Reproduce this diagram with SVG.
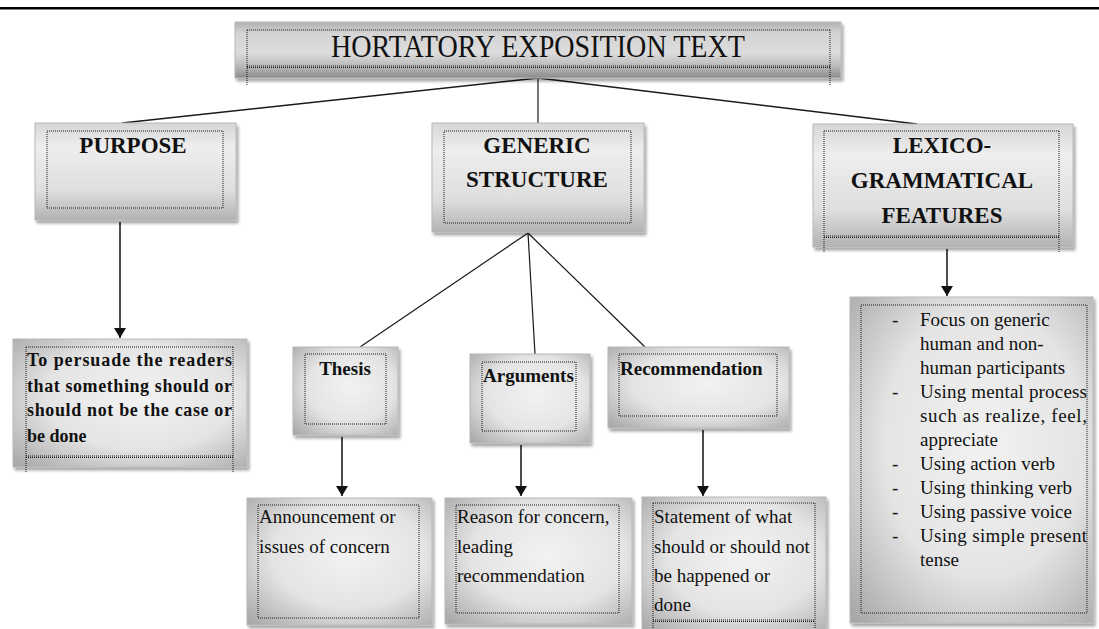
<svg xmlns="http://www.w3.org/2000/svg" width="1099" height="629" viewBox="0 0 1099 629">
<style>
.box{stroke:#b8b8b8;stroke-width:1;filter:url(#sh)}
.lin{fill:url(#lin)}
.rad{fill:url(#rad)}
.dot{fill:none;stroke:#1a1a1a;stroke-width:1;stroke-dasharray:1 1}
.hd{font-family:"Liberation Serif","Times New Roman",serif;font-weight:bold;fill:#111}
.tx{font-family:"Liberation Serif","Times New Roman",serif;fill:#111;font-size:19px}
.con{stroke:#1a1a1a;stroke-width:1.5;fill:none}
.arr{stroke:#111;stroke-width:1.5;fill:none;marker-end:url(#ah)}
</style>
<defs>
<linearGradient id="lin" x1="0" y1="0" x2="0" y2="1">
<stop offset="0" stop-color="#d6d6d6"/>
<stop offset="0.25" stop-color="#eeeeee"/>
<stop offset="0.7" stop-color="#dedede"/>
<stop offset="1" stop-color="#b2b2b2"/>
</linearGradient>
<radialGradient id="rad" cx="0.55" cy="0.45" r="0.75">
<stop offset="0" stop-color="#f2f2f2"/>
<stop offset="0.55" stop-color="#e4e4e4"/>
<stop offset="1" stop-color="#a8a8a8"/>
</radialGradient>
<linearGradient id="tg" x1="0" y1="0" x2="0" y2="1">
<stop offset="0" stop-color="#b0b0b0"/>
<stop offset="0.2" stop-color="#d4d4d4"/>
<stop offset="0.55" stop-color="#dcdcdc"/>
<stop offset="0.8" stop-color="#b8b8b8"/>
<stop offset="1" stop-color="#8a8a8a"/>
</linearGradient>
<filter id="sh" x="-10%" y="-10%" width="125%" height="130%">
<feGaussianBlur in="SourceAlpha" stdDeviation="1.5"/>
<feOffset dx="2" dy="3" result="o"/>
<feComponentTransfer><feFuncA type="linear" slope="0.35"/></feComponentTransfer>
<feMerge><feMergeNode/><feMergeNode in="SourceGraphic"/></feMerge>
</filter>
<marker id="ah" viewBox="0 0 10 12" refX="10" refY="6" markerWidth="10" markerHeight="12" markerUnits="userSpaceOnUse" orient="auto">
<path d="M0,0 L10,6 L0,12 Z" fill="#111"/>
</marker>
</defs>
<rect x="0" y="7" width="1099" height="2.5" fill="#000"/>

<g id="connectors">
<line class="con" x1="538" y1="78" x2="122" y2="123"/>
<line class="con" x1="538" y1="78" x2="538" y2="123" style="stroke-width:1.2"/>
<line class="con" x1="538" y1="78" x2="917" y2="124"/>
<line class="con" x1="528" y1="233" x2="360" y2="347" style="stroke-width:1.2"/>
<line class="con" x1="528" y1="233" x2="535" y2="354" style="stroke-width:1.2"/>
<line class="con" x1="528" y1="233" x2="645" y2="347" style="stroke-width:1.2"/>
<line class="arr" x1="120" y1="222" x2="120" y2="338"/>
<line class="arr" x1="947" y1="249" x2="947" y2="296"/>
<line class="arr" x1="342" y1="437" x2="342" y2="496"/>
<line class="arr" x1="521" y1="445" x2="521" y2="496"/>
<line class="arr" x1="703" y1="430" x2="703" y2="496"/>
</g>

<g id="title">
<rect class="box" x="235" y="22" width="606" height="56" fill="url(#tg)"/>
<line class="dot" x1="247" y1="30" x2="830" y2="30"/>
<line class="dot" x1="247" y1="66" x2="830" y2="66"/>
<line class="dot" x1="247" y1="67.5" x2="830" y2="67.5"/>
<line class="dot" x1="247" y1="30" x2="247" y2="86"/>
<line class="dot" x1="830" y1="30" x2="830" y2="86"/>
<text x="538" y="57" font-family="Liberation Serif, Times New Roman, serif" font-size="32" fill="#111" text-anchor="middle" textLength="414" lengthAdjust="spacingAndGlyphs">HORTATORY EXPOSITION TEXT</text>
</g>

<g id="purpose">
<rect class="box lin" x="35" y="123" width="201" height="97"/>
<rect class="dot" x="47" y="131" width="176" height="77"/>
<text class="hd" x="133" y="153" font-size="23" text-anchor="middle">PURPOSE</text>
</g>

<g id="generic">
<rect class="box lin" x="432" y="123" width="212" height="109"/>
<rect class="dot" x="444" y="131" width="187" height="92"/>
<text class="hd" x="537" y="153" font-size="23" text-anchor="middle">GENERIC</text>
<text class="hd" x="537" y="187" font-size="23" text-anchor="middle">STRUCTURE</text>
</g>

<g id="lexico">
<rect class="box lin" x="813" y="124" width="260" height="123"/>
<line class="dot" x1="824" y1="131" x2="1059" y2="131"/>
<line class="dot" x1="824" y1="236" x2="1059" y2="236"/>
<line class="dot" x1="824" y1="237.5" x2="1059" y2="237.5"/>
<line class="dot" x1="824" y1="131" x2="824" y2="252"/>
<line class="dot" x1="1059" y1="131" x2="1059" y2="252"/>
<text class="hd" x="942" y="153" font-size="23" text-anchor="middle">LEXICO-</text>
<text class="hd" x="942" y="188" font-size="23" text-anchor="middle">GRAMMATICAL</text>
<text class="hd" x="942" y="223" font-size="23" text-anchor="middle">FEATURES</text>
</g>

<g id="purpose-desc">
<rect class="box rad" x="13" y="339" width="234" height="128"/>
<line class="dot" x1="26" y1="347" x2="233" y2="347"/>
<line class="dot" x1="26" y1="456" x2="233" y2="456"/>
<line class="dot" x1="26" y1="457.5" x2="233" y2="457.5"/>
<line class="dot" x1="26" y1="347" x2="26" y2="472"/>
<line class="dot" x1="233" y1="347" x2="233" y2="472"/>
<text class="hd" font-size="18" x="27" y="366" textLength="205" lengthAdjust="spacing">To persuade the readers</text>
<text class="hd" font-size="18" x="27" y="392" textLength="205" lengthAdjust="spacing">that something should or</text>
<text class="hd" font-size="18" x="27" y="416" textLength="205" lengthAdjust="spacing">should not be the case or</text>
<text class="hd" font-size="18" x="27" y="442">be done</text>
</g>

<g id="thesis">
<rect class="box rad" x="293" y="347" width="105" height="88"/>
<rect class="dot" x="305" y="354" width="81" height="70"/>
<text class="hd" x="345" y="375" font-size="19" text-anchor="middle">Thesis</text>
</g>

<g id="arguments">
<rect class="box rad" x="470" y="354" width="120" height="89"/>
<rect class="dot" x="482" y="362" width="94" height="69"/>
<text class="hd" x="483" y="382" font-size="19">Arguments</text>
</g>

<g id="recommendation">
<rect class="box rad" x="608" y="347" width="181" height="81"/>
<rect class="dot" x="619" y="354" width="158" height="62"/>
<text class="hd" x="620" y="375" font-size="19">Recommendation</text>
</g>

<g id="thesis-desc">
<rect class="box rad" x="247" y="498" width="185" height="127"/>
<rect class="dot" x="258" y="505" width="161" height="113"/>
<text class="tx" x="259" y="523">Announcement or</text>
<text class="tx" x="259" y="553">issues of concern</text>
</g>

<g id="arguments-desc">
<rect class="box rad" x="445" y="498" width="187" height="126"/>
<rect class="dot" x="456" y="505" width="163" height="108"/>
<text class="tx" x="457" y="523">Reason for concern,</text>
<text class="tx" x="457" y="553">leading</text>
<text class="tx" x="457" y="582">recommendation</text>
</g>

<g id="recommendation-desc">
<rect class="box rad" x="642" y="497" width="184" height="136"/>
<line class="dot" x1="653" y1="503" x2="815" y2="503"/>
<line class="dot" x1="653" y1="620" x2="815" y2="620"/>
<line class="dot" x1="653" y1="621.5" x2="815" y2="621.5"/>
<line class="dot" x1="653" y1="503" x2="653" y2="629"/>
<line class="dot" x1="815" y1="503" x2="815" y2="629"/>
<text class="tx" x="654" y="523">Statement of what</text>
<text class="tx" x="654" y="553">should or should not</text>
<text class="tx" x="654" y="582">be happened or</text>
<text class="tx" x="654" y="611">done</text>
</g>

<g id="lexico-desc">
<rect class="box rad" x="850" y="297" width="243" height="326"/>
<rect class="dot" x="861" y="305" width="226" height="308"/>
<g class="tx">
<text x="892" y="326">-</text><text x="920" y="326">Focus on generic</text>
<text x="920" y="350">human and non-</text>
<text x="920" y="374">human participants</text>
<text x="892" y="398">-</text><text x="920" y="398" textLength="167" lengthAdjust="spacing">Using mental process</text>
<text x="920" y="422" textLength="167" lengthAdjust="spacing">such as realize, feel,</text>
<text x="920" y="446">appreciate</text>
<text x="892" y="470">-</text><text x="920" y="470">Using action verb</text>
<text x="892" y="494">-</text><text x="920" y="494">Using thinking verb</text>
<text x="892" y="518">-</text><text x="920" y="518">Using passive voice</text>
<text x="892" y="542">-</text><text x="920" y="542" textLength="167" lengthAdjust="spacing">Using simple present</text>
<text x="920" y="566">tense</text>
</g>
</g>
</svg>
